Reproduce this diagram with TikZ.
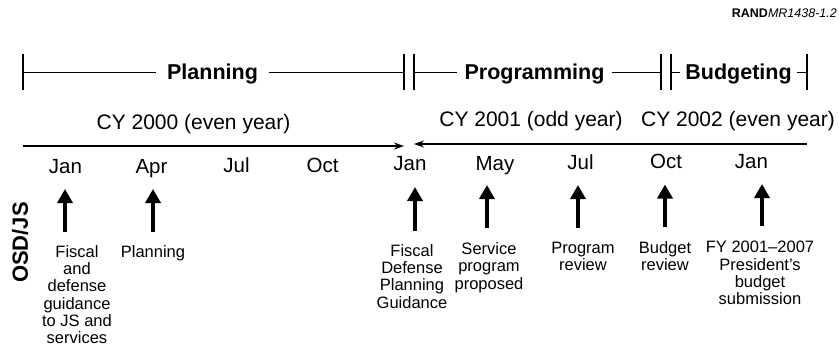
\documentclass[tikz,border=0pt]{standalone}
\usepackage{fontspec}
\setmainfont{Liberation Sans}
\usetikzlibrary{arrows.meta}
\begin{document}
\begin{tikzpicture}[x=1pt,y=-1pt,
  phase/.style={font=\fontsize{21.5}{24}\selectfont\bfseries, inner ysep=0pt, anchor=base},
  bar/.style={line width=1.3pt},
  yearlbl/.style={font=\fontsize{21}{24}\selectfont, anchor=base, inner sep=0pt},
  month/.style={font=\fontsize{20.5}{23}\selectfont, anchor=base, inner sep=0pt},
  desc/.style={font=\fontsize{16.5}{17.3}\selectfont, align=center, anchor=north, inner sep=0pt},
  tline/.style={line width=1.2pt, -{Stealth[length=10pt,width=7pt]}},
  uparrow/.style={line width=3.6pt, -{Triangle[length=14pt,width=15pt]}},
]
\useasboundingbox (0,0) rectangle (839,353);

% figure id
\node[anchor=base east, inner sep=0pt, font=\fontsize{12.5}{14}\selectfont] (rand) at (837,18) {\textbf{RAND}\textit{MR1438-1.2}};

% phase bar
\coordinate (p0) at (23,72.5);
\coordinate (p1) at (404,72.5);
\coordinate (p2) at (414,72.5);
\coordinate (p3) at (661,72.5);
\coordinate (p4) at (671,72.5);
\coordinate (p5) at (807,72.5);
\node[phase, inner xsep=10.5pt] (plan) at (212.5,80) {Planning};
\node[phase, inner xsep=7pt] (prog) at (534.5,80) {Programming};
\node[phase, inner xsep=5pt] (budg) at (738.5,80) {Budgeting};
\draw[bar] (p0) -- (plan.west |- p0);
\draw[bar] (plan.east |- p0) -- (p1);
\draw[bar] (p2) -- (prog.west |- p2);
\draw[bar] (prog.east |- p2) -- (p3);
\draw[bar] (p4) -- (budg.west |- p4);
\draw[bar] (budg.east |- p4) -- (p5);
\foreach \p in {p0,p1,p2,p3,p4,p5}{
  \draw[bar] ([yshift=18pt]\p) -- ([yshift=-18pt]\p);
}

% year labels and timelines
\node[yearlbl] (cy0) at (193.5,130) {CY 2000 (even year)};
\node[yearlbl] (cy1) at (531,127) {CY 2001 (odd year)};
\node[yearlbl] (cy2) at (738,127) {CY 2002 (even year)};
\coordinate (t0) at (23,146);
\coordinate (t1) at (404,146);
\coordinate (t2) at (807,144);
\coordinate (t3) at (414,144);
\draw[tline] (t0) -- (t1);
\draw[tline] (t2) -- (t3);

% months
\node[month] (m1) at (65.5,173) {Jan};
\node[month] (m2) at (151.5,173) {Apr};
\node[month] (m3) at (236.5,172.5) {Jul};
\node[month] (m4) at (322.5,172) {Oct};
\node[month] (m5) at (410,171) {Jan};
\node[month] (m6) at (495,170) {May};
\node[month] (m7) at (580.5,169) {Jul};
\node[month] (m8) at (666,168.5) {Oct};
\node[month] (m9) at (751.5,168) {Jan};

% OSD/JS
\node[rotate=90, font=\fontsize{22}{24}\selectfont\bfseries, inner sep=0pt] (osd) at (20,242.5) {OSD/JS};

% up arrows
\coordinate (a1b) at (65,232);  \coordinate (a1t) at (65,189);
\coordinate (a2b) at (153,232); \coordinate (a2t) at (153,189);
\coordinate (a3b) at (415,231); \coordinate (a3t) at (415,187);
\coordinate (a4b) at (487,228); \coordinate (a4t) at (487,185);
\coordinate (a5b) at (578,228); \coordinate (a5t) at (578,185);
\coordinate (a6b) at (665,227); \coordinate (a6t) at (665,184.5);
\coordinate (a7b) at (762,226); \coordinate (a7t) at (762,184);
\foreach \i in {1,...,7}{
  \draw[uparrow] (a\i b) -- (a\i t);
}

% descriptions
\node[desc] (d1) at (77,245) {Fiscal\\and\\defense\\guidance\\to JS and\\services};
\node[desc] (d2) at (153,245) {Planning};
\node[desc] (d3) at (412,244) {Fiscal\\Defense\\Planning\\Guidance};
\node[desc] (d4) at (489,242.5) {Service\\program\\proposed};
\node[desc] (d5) at (583,242) {Program\\review};
\node[desc] (d6) at (665,241.5) {Budget\\review};
\node[desc] (d7) at (760,241) {FY 2001–2007\\President’s\\budget\\submission};
\end{tikzpicture}
\end{document}
